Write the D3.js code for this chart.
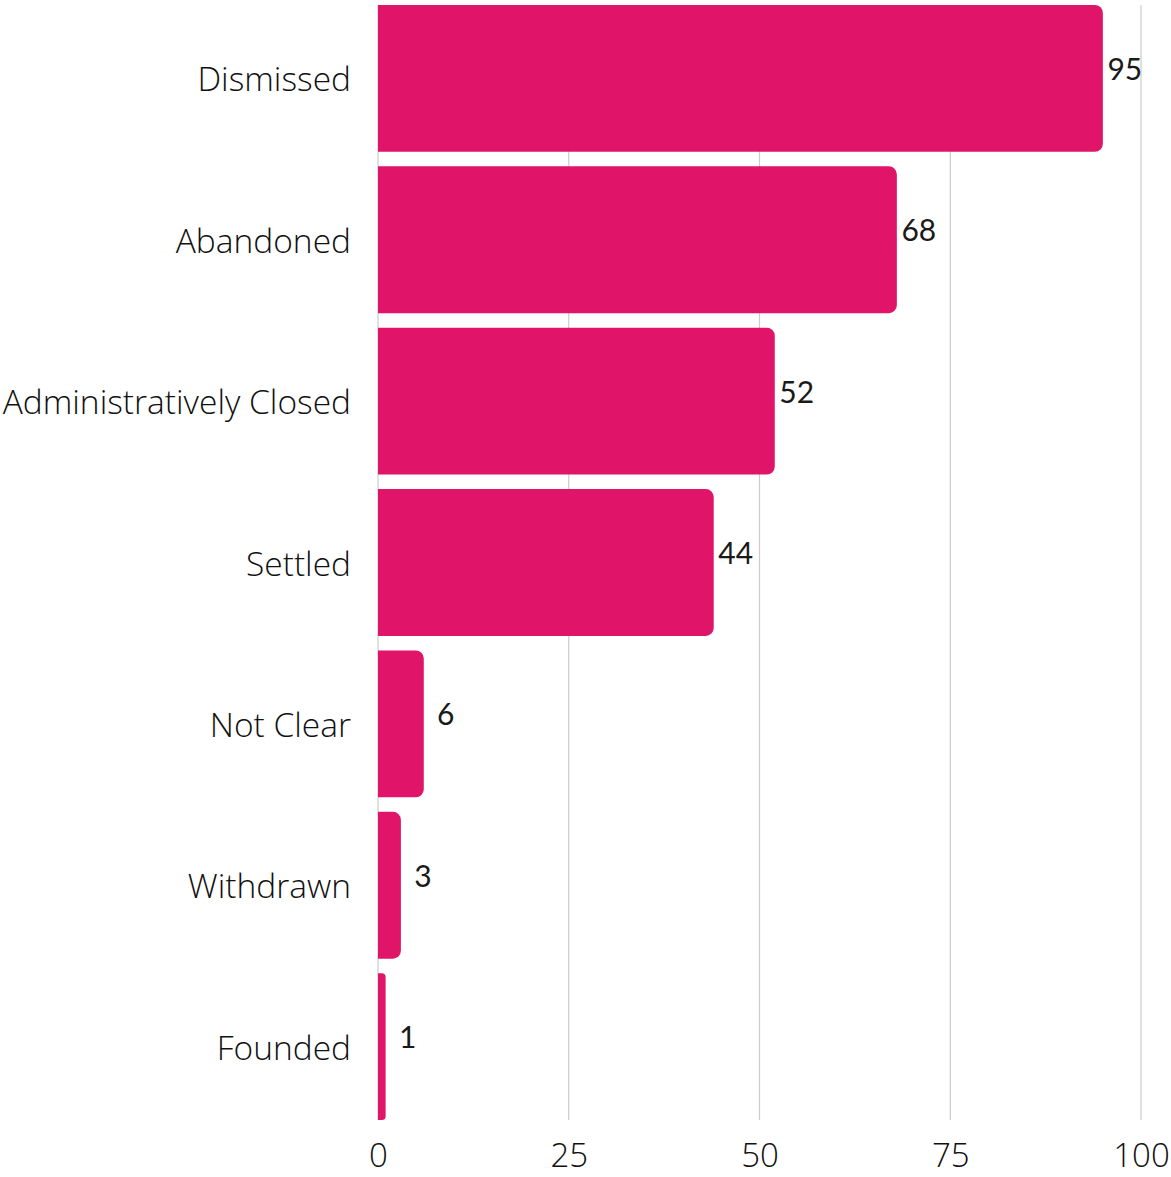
<!DOCTYPE html>
<html>
<head>
<meta charset="utf-8">
<script src="https://cdn.jsdelivr.net/npm/d3@7"></script>
<style>
  html, body { margin: 0; padding: 0; background: #fff; }
  svg { display: block; }
  .cat { font-family: "Open Sans", sans-serif; font-weight: 300; font-size: 33.5px; fill: #111; }
  .tick text { font-family: "Open Sans", sans-serif; font-weight: 300; font-size: 33px; }
  .val { font-family: "Lato", "Noto Sans", sans-serif; font-weight: 400; font-size: 30px; fill: #1a1a1a; }
</style>
</head>
<body>
<svg id="chart" width="1171" height="1177"></svg>
<script>
// Case outcomes and their counts
const categories = ["Dismissed", "Abandoned", "Administratively Closed", "Settled", "Not Clear", "Withdrawn", "Founded"];
const counts = [95, 68, 52, 44, 6, 3, 1];
const xTicks = [0, 25, 50, 75, 100];

const svg = d3.select("#chart");
const margin = { top: 5, right: 30, bottom: 57, left: 378 };
const width = 1171 - margin.left - margin.right;
const height = 1177 - margin.top - margin.bottom;

const g = svg.append("g").attr("transform", `translate(${margin.left},${margin.top})`);

const x = d3.scaleLinear().domain([0, 100]).range([0, 763]);
const y = d3.scaleBand().domain(categories).range([0, height]).paddingInner(0.09).paddingOuter(0.0);

// vertical gridlines
g.append("g")
  .selectAll("line")
  .data(xTicks)
  .join("line")
  .attr("x1", d => x(d)).attr("x2", d => x(d))
  .attr("y1", 0).attr("y2", height)
  .attr("stroke", "#cccccc").attr("stroke-width", 1.2);

// bars with rounded right end
const r = 8;
function barPath(w, h) {
  const rr = Math.min(r, w / 2, h / 2);
  return `M0,0 H${w - rr} A${rr},${rr} 0 0 1 ${w},${rr} V${h - rr} A${rr},${rr} 0 0 1 ${w - rr},${h} H0 Z`;
}
const data = categories.map((c, i) => ({ c, v: counts[i] }));

g.append("g")
  .selectAll("path")
  .data(data)
  .join("path")
  .attr("transform", d => `translate(0,${y(d.c)})`)
  .attr("d", d => barPath(x(d.v), y.bandwidth()))
  .attr("fill", "#e01468");

// value labels
g.append("g")
  .selectAll("text")
  .data(data)
  .join("text")
  .attr("class", "val")
  .attr("x", d => x(d.v) + 22)
  .attr("y", d => y(d.c) + y.bandwidth() / 2 - 6)
  .attr("text-anchor", "middle")
  .attr("dominant-baseline", "middle")
  .text(d => d.v);

// category labels
g.append("g")
  .selectAll("text")
  .data(data)
  .join("text")
  .attr("class", "cat")
  .attr("x", -27)
  .attr("y", d => y(d.c) + y.bandwidth() / 2)
  .attr("text-anchor", "end")
  .attr("dominant-baseline", "central")
  .text(d => d.c);

// x axis labels
const xAxis = d3.axisBottom(x).tickValues(xTicks).tickSize(0).tickPadding(24);
const ax = g.append("g").attr("transform", `translate(0,${height})`).call(xAxis);
ax.select(".domain").remove();
ax.selectAll(".tick text").attr("fill", "#111");
</script>
</body>
</html>
